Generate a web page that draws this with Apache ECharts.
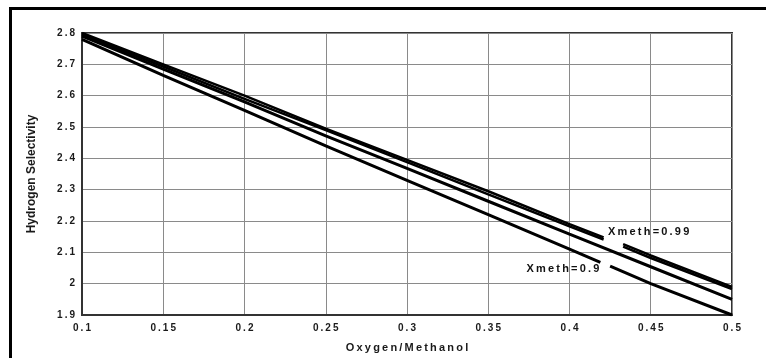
<!DOCTYPE html>
<html>
<head>
<meta charset="utf-8">
<script src="https://cdn.jsdelivr.net/npm/echarts@6/dist/echarts.min.js"></script>
<style>
    html, body { margin: 0; padding: 0; background: #fff; overflow: hidden; }
    #chart { width: 766px; height: 358px; }
    .frame {
        position: absolute; left: 9px; top: 7px; width: 800px; height: 400px;
        border-left: 3px solid #000; border-top: 3px solid #000; pointer-events: none;
    }
</style>
</head>
<body>
<div id="chart"></div>
<div class="frame"></div>
<script>
// values; '-' marks where the line is broken for the label
const xTop = [0.1, 0.15, 0.2, 0.25, 0.3, 0.35, 0.4, 0.421, 0.426, 0.433, 0.45, 0.5];
const yTopA = [2.80, 2.70, 2.60, 2.495, 2.395, 2.295, 2.19, 2.148, '-', 2.126, 2.09, 1.99];
const yTopB = [2.795, 2.693, 2.59, 2.49, 2.388, 2.285, 2.183, 2.141, '-', 2.118, 2.082, 1.983];
const xMid = [0.1, 0.15, 0.2, 0.25, 0.3, 0.35, 0.4, 0.45, 0.5];
const yMid = [2.79, 2.685, 2.58, 2.472, 2.368, 2.263, 2.158, 2.054, 1.95];
const xLow = [0.1, 0.15, 0.2, 0.25, 0.3, 0.35, 0.4, 0.419, 0.422, 0.425, 0.45, 0.5];
const yLow = [2.78, 2.665, 2.553, 2.44, 2.33, 2.22, 2.11, 2.068, '-', 2.056, 2.0, 1.90];
const labelNames = ['Xmeth=0.99', 'Xmeth=0.9'];
const labelAt = [[0.4237, 2.165], [0.3735, 2.047]];

const spaced = s => String(s).split('').join('\u2009');
const pairs = (xs, ys) => xs.map((x, i) => [x, ys[i]]);

const chart = echarts.init(document.getElementById('chart'));

const FONT = 'Liberation Sans, Arial, sans-serif';
const tickFont = { fontFamily: FONT, fontSize: 10, fontWeight: 'bold', color: '#1a1a1a' };

function lineSeries(name, data, width, label, at){
    const s = {
        name: name,
        type: 'line',
        data: data,
        symbol: 'none',
        connectNulls: false,
        lineStyle: { color: '#000', width: width },
        silent: true,
        z: 3
    };
    if(label){
        s.markPoint = {
            symbol: 'circle',
            symbolSize: 0,
            data: [{ coord: at }],
            label: {
                show: true,
                position: 'right',
                distance: 0,
                formatter: spaced(label),
                fontFamily: FONT,
                fontSize: 11,
                fontWeight: 'bold',
                color: '#111'
            }
        };
    }
    return s;
}

chart.setOption({
    animation: false,
    backgroundColor: '#fff',
    grid: {
        left: 82, right: 34, top: 33, bottom: 43,
        show: true, borderColor: '#333', borderWidth: 2
    },
    xAxis: {
        type: 'value',
        min: 0.1, max: 0.5, interval: 0.05,
        name: spaced('Oxygen/Methanol'),
        nameLocation: 'middle',
        nameGap: 27,
        nameTextStyle: { fontFamily: FONT, fontSize: 11, fontWeight: 'bold', color: '#1a1a1a' },
        axisLine: { show: true, lineStyle: { color: '#333', width: 2 } },
        axisTick: { show: false },
        axisLabel: Object.assign({ margin: 8, formatter: v => spaced(+v.toFixed(2)) }, tickFont),
        splitLine: { show: true, lineStyle: { color: '#8a8a8a', width: 1 } }
    },
    yAxis: {
        type: 'value',
        min: 1.9, max: 2.8, interval: 0.1,
        name: 'Hydrogen Selectivity',
        nameLocation: 'middle',
        nameGap: 44,
        nameRotate: 90,
        nameTextStyle: { fontFamily: FONT, fontSize: 12, fontWeight: 'bold', color: '#1a1a1a' },
        axisLine: { show: true, lineStyle: { color: '#333', width: 2 } },
        axisTick: { show: false },
        axisLabel: Object.assign({ margin: 7, formatter: v => spaced(+v.toFixed(1)) }, tickFont),
        splitLine: { show: true, lineStyle: { color: '#8a8a8a', width: 1 } }
    },
    series: [
        lineSeries('A', pairs(xTop, yTopA), 2.5, labelNames[0], labelAt[0]),
        lineSeries('B', pairs(xTop, yTopB), 2.5),
        lineSeries('C', pairs(xMid, yMid), 3),
        lineSeries('D', pairs(xLow, yLow), 3, labelNames[1], labelAt[1])
    ]
});
</script>
</body>
</html>
